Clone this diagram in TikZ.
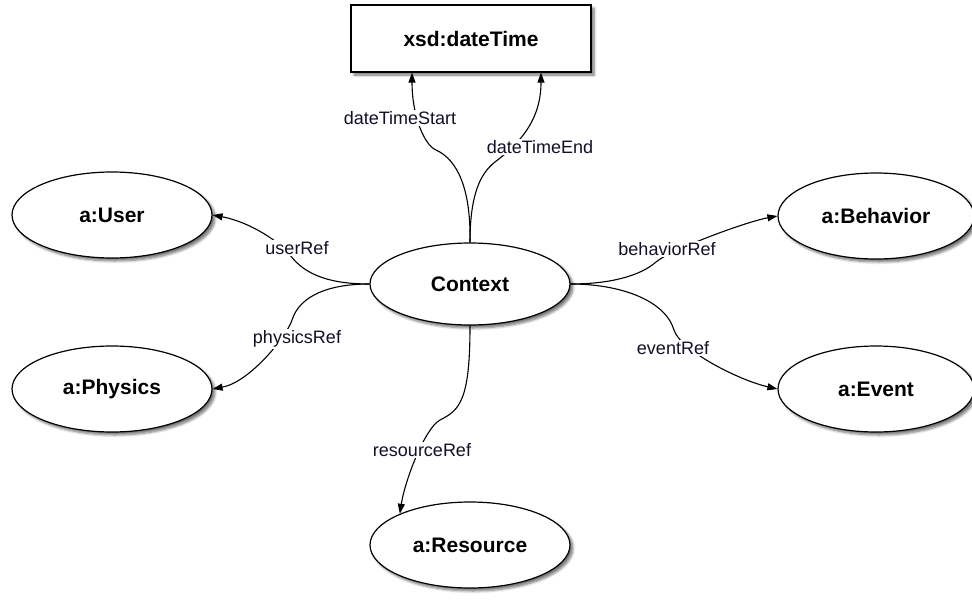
\documentclass[tikz,border=0pt]{standalone}
\usepackage{fontspec}
\setmainfont{Liberation Sans}
\usetikzlibrary{arrows.meta,shapes.geometric,shadows.blur}
\definecolor{labelink}{RGB}{16,16,40}
\begin{document}
\begin{tikzpicture}[x=1pt,y=-1pt,
  soft/.style={blur shadow={shadow xshift=3pt,shadow yshift=-3pt,shadow blur radius=2.5pt,shadow blur steps=6,shadow opacity=55}},
  cls/.style={ellipse,draw=black,line width=1.2pt,fill=white,soft,
    minimum width=200pt,minimum height=86pt,inner sep=0pt,
    font=\fontsize{21}{25}\selectfont\bfseries},
  typebox/.style={rectangle,draw=black,line width=1.2pt,fill=white,soft,
    minimum width=240pt,minimum height=67pt,inner sep=0pt,
    font=\fontsize{21}{25}\selectfont\bfseries},
  rel/.style={draw=black,line width=1.1pt,-{Triangle[length=10pt,width=7pt]}},
  lbl/.style={fill=white,inner sep=1.5pt,text=labelink,
    font=\fontsize{18}{21}\selectfont}
]
\useasboundingbox (0,0) rectangle (972,600);

% classes
\node[typebox] (box) at (471,38.5) {xsd:dateTime};
\node[cls,minimum height=82pt] (ctx) at (470,284) {Context};
\node[cls] (user) at (112,215) {a:User};
\node[cls] (phys) at (112,389) {a:Physics};
\node[cls,minimum width=196pt] (beh) at (876,216) {a:Behavior};
\node[cls,minimum width=196pt] (evt) at (876,389) {a:Event};
\node[cls] (res) at (470,545) {a:Resource};

% properties
\draw[rel] (ctx.north) .. controls (471,190) and (458,160) .. (436,150)
  .. controls (424,145) and (412,115) .. ([xshift=-59pt]box.south);
\draw[rel] (ctx.north) .. controls (470,200) and (478,175) .. (495,162)
  .. controls (520,143) and (541,120) .. ([xshift=70pt]box.south);
\draw[rel] (ctx.west) .. controls (330,284) and (305,275) .. (290,255)
  .. controls (280,242) and (250,222) .. (user.east);
\draw[rel] (ctx.west) .. controls (330,284) and (300,295) .. (292,320)
  .. controls (287,336) and (250,382) .. (phys.east);
\draw[rel] (ctx.east) .. controls (610,284) and (640,276) .. (656,262)
  .. controls (670,250) and (745,222) .. (beh.west);
\draw[rel] (ctx.east) .. controls (620,284) and (665,300) .. (674,330)
  .. controls (680,350) and (738,380) .. (evt.west);
\draw[rel] (ctx.south) .. controls (470,400) and (460,410) .. (440,420)
  .. controls (425,428) and (405,480) .. (res.156);

% property labels
\node[lbl] (lstart) at (400,118) {dateTimeStart};
\node[lbl] (lend) at (540,147) {dateTimeEnd};
\node[lbl] (luser) at (297,248) {userRef};
\node[lbl] (lphys) at (297,339) {physicsRef};
\node[lbl] (lbeh) at (667,249) {behaviorRef};
\node[lbl] (levt) at (673,348) {eventRef};
\node[lbl] (lres) at (422,450) {resourceRef};
\end{tikzpicture}
\end{document}
